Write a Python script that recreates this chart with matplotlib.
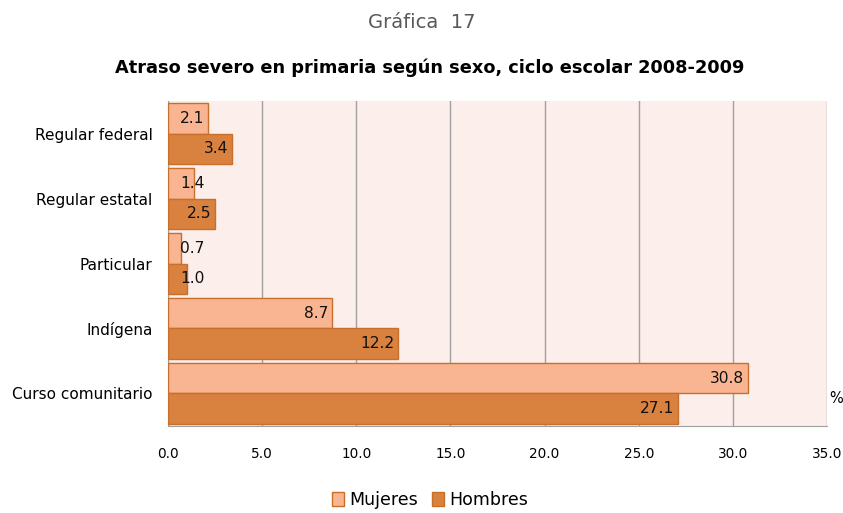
import matplotlib.pyplot as plt
import numpy as np
from matplotlib.patches import Patch

categorias = ['Regular federal', 'Regular estatal', 'Particular', 'Indígena', 'Curso comunitario']
mujeres = [2.1, 1.4, 0.7, 8.7, 30.8]
hombres = [3.4, 2.5, 1.0, 12.2, 27.1]

c_muj = '#F9B591'
c_hom = '#D9813E'
c_borde = '#C86F2C'

plt.rcParams['font.family'] = ['DejaVu Sans']

fig = plt.figure(figsize=(8.43, 5.13), dpi=100)
ax = fig.add_axes([0.1993, 0.1696, 0.7817, 0.6335])
ax.set_facecolor('#FCEEEA')

y = np.arange(len(categorias))
h = 0.47
d = 0.235
ax.barh(y - d, mujeres, height=h, color=c_muj, edgecolor=c_borde, linewidth=1, label='Mujeres', zorder=3)
ax.barh(y + d, hombres, height=h, color=c_hom, edgecolor=c_borde, linewidth=1, label='Hombres', zorder=3)

# etiquetas dentro del extremo de la barra
for serie, off in ((mujeres, -d), (hombres, d)):
    for yi, v in zip(y, serie):
        if v - 0.2 - 1.4 < 0.65:
            ax.text(0.65, yi + off, f'{v:.1f}', ha='left', va='center', fontsize=11.2, color='#111111', zorder=4)
        else:
            ax.text(v - 0.2, yi + off, f'{v:.1f}', ha='right', va='center', fontsize=11.2, color='#111111', zorder=4)

ax.set_xlim(0, 35)
ax.set_ylim(len(categorias) - 0.5, -0.5)
ax.set_xticks(np.arange(0, 36, 5))
ax.set_xticklabels([f'{t:.1f}' for t in np.arange(0, 36, 5)], fontsize=9.8)
ax.set_yticks(y)
ax.set_yticklabels(categorias, fontsize=11)
ax.tick_params(axis='x', length=0, pad=15)
ax.tick_params(axis='y', length=0, pad=11)
ax.grid(axis='x', color='#A0A0A0', linewidth=1, zorder=0)
for s in ['top', 'right']:
    ax.spines[s].set_visible(False)
for s in ['left', 'bottom']:
    ax.spines[s].set_color('#A0A0A0')

ax.text(1.003, 0.085, '%', transform=ax.transAxes, fontsize=10.5, ha='left', va='center')

fig.text(0.5, 0.957, 'Gráfica  17', ha='center', va='center', fontsize=14, color='#595959')
fig.text(0.51, 0.868, 'Atraso severo en primaria según sexo, ciclo escolar 2008-2009',
         ha='center', va='center', fontsize=12.8, fontweight='bold')

handles = [Patch(facecolor=c_muj, edgecolor=c_borde), Patch(facecolor=c_hom, edgecolor=c_borde)]
fig.legend(handles, ['Mujeres', 'Hombres'], loc='center', bbox_to_anchor=(0.51, 0.025), ncol=2,
           frameon=False, fontsize=12.5, handlelength=0.7, handleheight=0.9, handletextpad=0.3, columnspacing=0.8)

fig.savefig('out.png', dpi=100)
